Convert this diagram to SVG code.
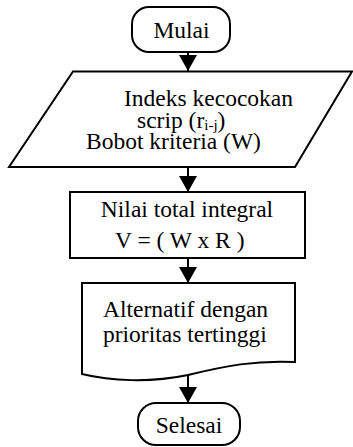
<svg xmlns="http://www.w3.org/2000/svg" width="353" height="447" viewBox="0 0 353 447">
<style>
.shape{fill:#fff;stroke:#000;stroke-width:2;}
.t{font-family:"Liberation Serif","Times New Roman",serif;font-size:23.5px;fill:#000;}
.c{text-anchor:middle;}
.conn{stroke:#000;stroke-width:2;fill:none;}
</style>
<defs>
<marker id="arr" markerUnits="userSpaceOnUse" markerWidth="16" markerHeight="18" refX="16" refY="9" orient="auto">
<path d="M0,0 L16,9 L0,18 Z" fill="#000"/>
</marker>
</defs>
<rect width="353" height="447" fill="#fff"/>
<g id="connectors">
<line class="conn" x1="188" y1="52" x2="188" y2="71" marker-end="url(#arr)"/>
<line class="conn" x1="188" y1="167" x2="188" y2="192" marker-end="url(#arr)"/>
<line class="conn" x1="188" y1="258" x2="188" y2="283" marker-end="url(#arr)"/>
<line class="conn" x1="188" y1="375" x2="188" y2="403" marker-end="url(#arr)"/>
</g>
<g id="mulai">
<rect class="shape" x="132" y="7" width="98" height="45" rx="17" ry="17"/>
<text class="t c" x="181.5" y="38">Mulai</text>
</g>
<g id="input">
<polygon class="shape" points="73,71.5 352,71.5 295,167 9,167"/>
<text class="t" x="124" y="106">Indeks kecocokan</text>
<text class="t" x="137" y="128">scrip (r<tspan font-size="15" dy="2">i-j</tspan><tspan dy="-2">)</tspan></text>
<text class="t" x="86" y="149">Bobot kriteria (W)</text>
</g>
<g id="proses">
<rect class="shape" x="70" y="192" width="235" height="66"/>
<text class="t c" x="187" y="217">Nilai total integral</text>
<text class="t" x="115" y="248">V = ( W x R )</text>
</g>
<g id="output">
<path class="shape" d="M82,283 H295 V362 C255,360 225,366 188,375 C150,383 110,381 82,374 Z"/>
<text class="t" x="103" y="317">Alternatif dengan</text>
<text class="t" x="103" y="342">prioritas tertinggi</text>
</g>
<g id="selesai">
<rect class="shape" x="138" y="403" width="102" height="42" rx="18" ry="18"/>
<text class="t c" x="189" y="433">Selesai</text>
</g>
</svg>
